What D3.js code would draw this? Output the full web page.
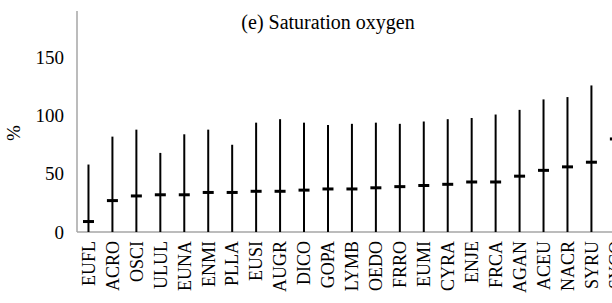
<!DOCTYPE html>
<meta charset='utf-8'>
<head>
    <title>Saturation oxygen</title>
    <script src='https://cdn.jsdelivr.net/npm/d3@7'></script>
</head>

<style>
    body { margin: 0; background: #fff; }
    svg { display: block; }
    text { font-family: 'Liberation Serif', 'Times New Roman', serif; fill: #000; }
    .axis path, .axis line { stroke: #a6a6a6; stroke-width: 1.5px; }
    .range { stroke: #000; stroke-width: 2px; }
    .mean { stroke: #000; stroke-width: 3px; }
</style>

<svg></svg>

<script>

    var vWidth = 612;
    var vHeight = 303;

    // species codes, ordered by mean
    var species = ['EUFL', 'ACRO', 'OSCI', 'ULUL', 'EUNA', 'ENMI', 'PLLA', 'EUSI', 'AUGR', 'DICO', 'GOPA',
        'LYMB', 'OEDO', 'FRRO', 'EUMI', 'CYRA', 'ENJE', 'FRCA', 'AGAN', 'ACEU', 'NACR', 'SYRU', 'SYCO'];
    // mean saturation (%)
    var means = [9, 27, 31, 32, 32, 34, 34, 35, 35, 36, 37, 37, 38, 39, 40, 41, 43, 43, 48, 53, 56, 60, 80];
    // maximum saturation (%)
    var maxima = [58, 82, 88, 68, 84, 88, 75, 94, 97, 94, 92, 93, 94, 93, 95, 97, 98, 101, 105, 114, 116, 126, 130];
    var yTicks = [0, 50, 100, 150];

    var svg = d3.select('svg').attr('width', vWidth).attr('height', vHeight);

    // the last category runs past the right edge, as in the source figure
    var x = d3.scaleBand().domain(species).range([76.5, 76.5 + 23.95 * species.length]).padding(0);
    var y = d3.scaleLinear().domain([0, 190]).range([232, 11]);

    // y axis
    svg.append('g').attr('class', 'axis').attr('transform', 'translate(77,0)')
        .call(d3.axisLeft(y).tickValues(yTicks).tickSize(0).tickPadding(13))
        .call(function (g) {
            g.select('.domain').attr('d', 'M0,' + y(190) + 'V' + y(0));
            g.selectAll('text').attr('font-size', 19).attr('fill', '#000')
                .attr('font-family', 'Liberation Serif');
        });

    // x axis
    svg.append('g').attr('class', 'axis').attr('transform', 'translate(0,' + y(0) + ')')
        .call(d3.axisBottom(x).tickSize(0).tickPadding(0))
        .call(function (g) {
            g.select('.domain').attr('d', 'M77,0H' + vWidth);
            g.selectAll('text')
                .attr('font-size', 18).attr('fill', '#000')
                .attr('font-family', 'Liberation Serif')
                .attr('transform', 'rotate(-90)')
                .attr('text-anchor', 'end')
                .attr('x', -9).attr('y', 0).attr('dy', '0.35em');
        });

    // range lines and mean marks
    svg.append('g').selectAll('line').data(species).enter().append('line')
        .attr('class', 'range')
        .attr('x1', function (d) { return x(d) + x.bandwidth() / 2; })
        .attr('x2', function (d) { return x(d) + x.bandwidth() / 2; })
        .attr('y1', y(0))
        .attr('y2', function (d, i) { return y(maxima[i]); });

    svg.append('g').selectAll('line').data(species).enter().append('line')
        .attr('class', 'mean')
        .attr('x1', function (d) { return x(d) + x.bandwidth() / 2 - 5.5; })
        .attr('x2', function (d) { return x(d) + x.bandwidth() / 2 + 5.5; })
        .attr('y1', function (d, i) { return y(means[i]); })
        .attr('y2', function (d, i) { return y(means[i]); });

    // title and unit
    svg.append('text').attr('x', 328).attr('y', 29).attr('text-anchor', 'middle')
        .attr('font-family', 'Liberation Serif').attr('font-size', 20).text('(e) Saturation oxygen');

    svg.append('text').attr('transform', 'translate(20,133) rotate(-90)').attr('text-anchor', 'middle')
        .attr('font-family', 'Liberation Serif').attr('font-size', 19).text('%');

</script>
